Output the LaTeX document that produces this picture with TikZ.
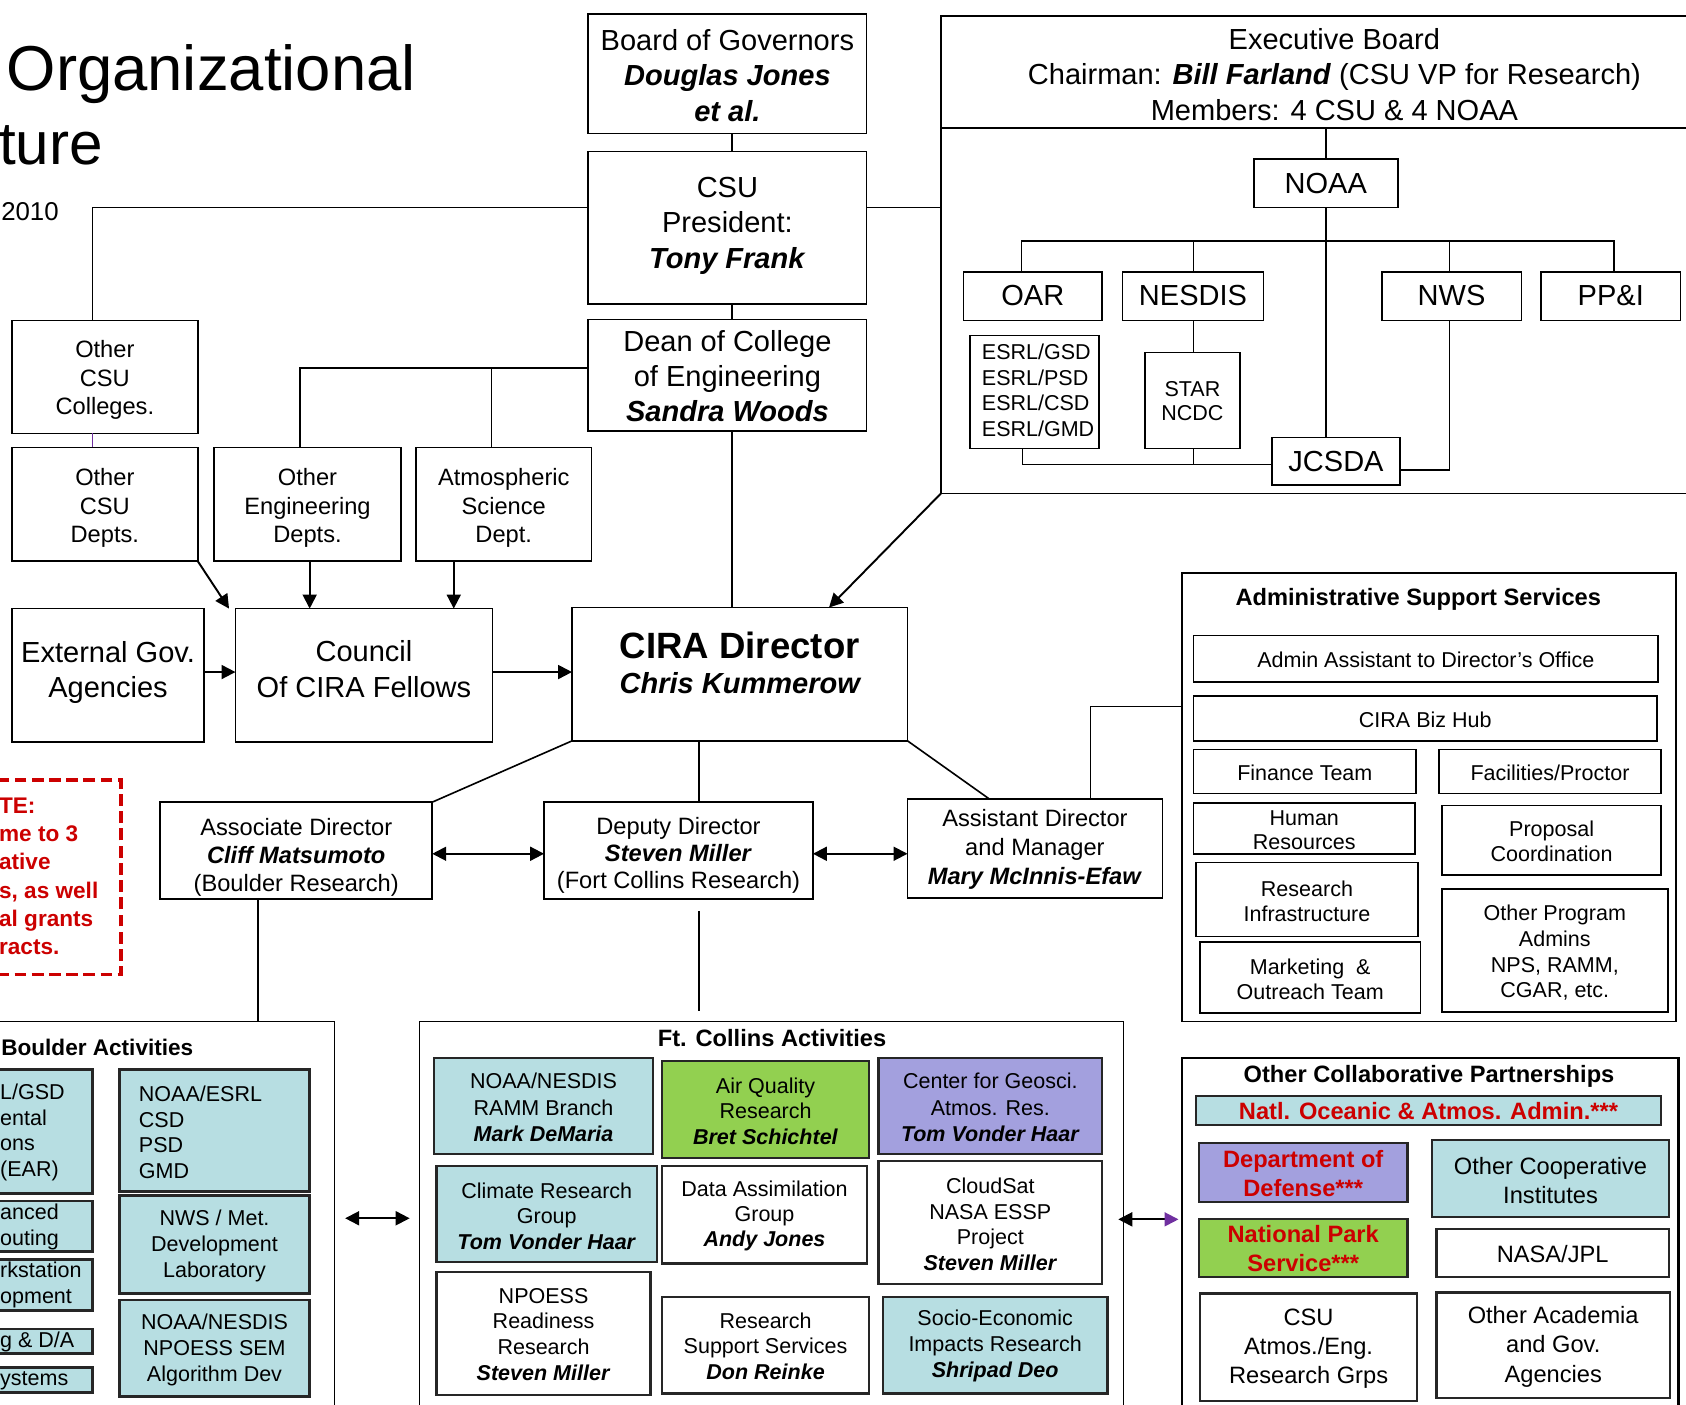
\documentclass[tikz,border=0pt]{standalone}
\usepackage{fontspec}
\setmainfont{Liberation Sans}
\usetikzlibrary{arrows.meta}
\definecolor{lblue}{RGB}{183,222,226}
\definecolor{lgreen}{RGB}{146,208,80}
\definecolor{lav}{RGB}{163,160,222}
\definecolor{nred}{RGB}{204,0,0}
\definecolor{purp}{RGB}{112,48,160}
\newcommand\bi[1]{\textbf{\textit{#1}}}
\newcommand\fsz[2]{\fontsize{#1}{#2}\selectfont}
\newcommand\bxe[6]{\node[box,#2,minimum width={((#5)-(#3))*1pt},minimum height={((#6)-(#4))*1pt},anchor=north west] (#1) at (#3,#4) {};}
\newcommand\bx[9]{\bxe{#1}{#2}{#3}{#4}{#5}{#6}\node[tx,#8] (#1t) at ({((#3)+(#5))/2},#7) {#9};}
\begin{document}
\begin{tikzpicture}[x=1pt,y=-1pt,
 box/.style={draw=black,line width=1.5pt,inner sep=0pt,outer sep=0pt},
 tbox/.style={line width=2.6pt,draw=black!85},
 mbox/.style={line width=2pt,draw=black!85},
 fb/.style={fill=lblue},
 fg/.style={fill=lgreen},
 fl/.style={fill=lav},
 tx/.style={inner sep=0pt,align=center},
 ln/.style={line width=1.5pt},
 ar/.style={line width=1.8pt,-{Triangle[length=13pt,width=13pt]}},
 dar/.style={line width=1.8pt,{Triangle[length=13pt,width=13pt]}-{Triangle[length=13pt,width=13pt]}},
 f20/.style={font=\fsz{20}{24}},
 f22/.style={font=\fsz{22}{26}},
 f27/.style={font=\fsz{27}{33}},
 rb/.style={font=\bfseries\fsz{22}{27},text=nred},
]
\useasboundingbox (0,0) rectangle (1568,1306);
\clip (0,0) rectangle (1568,1306);

% title
\node[anchor=base west,inner sep=0pt,font=\fsz{59}{70}] (title1) at (6,84) {Organizational};
\node[anchor=base west,inner sep=0pt,font=\fsz{56}{70}] (title2) at (-1,153) {ture};
\node[anchor=base west,inner sep=0pt,font=\fsz{24}{30}] (date) at (1,205) {2010};

% CSU chain
\bx{bog}{}{547}{13}{806}{124}{70}{f27}{Board of Governors\\\bi{Douglas Jones}\\\bi{et al.}}
\bx{csu}{}{547}{141}{806}{283}{210}{f27}{CSU\\President:\\\bi{Tony Frank}}
\bx{dean}{}{547}{297}{806}{401}{350}{font=\fsz{27}{32.5}}{Dean of College\\of Engineering\\\bi{Sandra Woods}}

% left column
\bx{colleges}{}{11}{298}{184}{403}{353.5}{font=\fsz{22}{26.5}}{Other\\CSU\\Colleges.}
\bx{depts}{}{11}{416}{184}{522}{472.5}{font=\fsz{22}{26.5}}{Other\\CSU\\Depts.}
\bx{eng}{}{199}{416}{373}{522}{472.5}{font=\fsz{22}{26.5}}{Other\\Engineering\\Depts.}
\bx{atmos}{}{387}{416}{550}{522}{472.5}{font=\fsz{22}{26.5}}{Atmospheric\\Science\\Dept.}
\bx{external}{}{11}{566}{190}{690}{625.5}{f27}{External Gov.\\Agencies}
\bx{council}{}{219}{566}{458}{690}{622.5}{f27}{Council\\Of CIRA Fellows}

% CIRA director
\bxe{cira}{}{532}{565}{844}{689}
\node[tx,font=\bfseries\fsz{34}{38}] (cirat1) at (688,600) {CIRA Director};
\node[tx,font=\bfseries\itshape\fsz{27}{30}] (cirat2) at (688,635) {Chris Kummerow};

% directors
\bx{assoc}{}{149}{746}{402}{836}{797}{font=\fsz{22}{26}}{Associate Director\\\bi{Cliff Matsumoto}\\(Boulder Research)}
\bx{deputy}{}{506}{746}{756}{836}{795.5}{font=\fsz{22}{25.5}}{Deputy Director\\\bi{Steven Miller}\\(Fort Collins Research)}
\bx{asst}{}{844}{743}{1081}{835}{790}{font=\fsz{22}{27}}{Assistant Director\\and Manager\\\bi{Mary McInnis-Efaw}}

% executive board
\bxe{exech}{}{875}{15}{1720}{119}
\bxe{execl}{}{875}{119}{1720}{459}
\node[tx,f27] (exect) at (1241,69) {Executive Board\\Chairman: \bi{Bill Farland} (CSU VP for Research)\\Members: 4 CSU \& 4 NOAA};
\bx{noaa}{}{1166}{148}{1300}{193}{171}{f27}{NOAA}
\bx{oar}{}{896}{253}{1025}{298}{275}{f27}{OAR}
\bx{nesdis}{}{1044}{253}{1175}{298}{275}{f27}{NESDIS}
\bx{nws}{}{1285}{253}{1415}{298}{275}{f27}{NWS}
\bx{ppi}{}{1433}{253}{1563}{298}{275}{f27}{PP\&I}
\bxe{esrl}{}{902}{312}{1022}{417}
\node[tx,align=left,anchor=west,font=\fsz{20}{24}] (esrlt) at (913,363) {ESRL/GSD\\ESRL/PSD\\ESRL/CSD\\ESRL/GMD};
\bx{star}{}{1065}{328}{1153}{417}{373}{font=\fsz{20}{23}}{STAR\\NCDC}
\bx{jcsda}{}{1183}{407}{1302}{451}{429}{f27}{JCSDA}

% note
\node[draw=nred,line width=3pt,dash pattern=on 11pt off 5pt,inner sep=0pt,minimum width=131pt,minimum height=181pt,anchor=north west] (note) at (-20,724) {};
\node[anchor=west,align=left,inner sep=0pt,font=\bfseries\fsz{21}{26.3},text=nred] (notet) at (-1,815) {TE:\\me to 3\\ative\\s, as well\\al grants\\racts.};

% Boulder activities
\bxe{boulder}{}{-20}{950}{311}{1330}
\node[anchor=west,inner sep=0pt,font=\bfseries\fsz{21}{26}] (bouldert) at (1,974) {Boulder Activities};
\bxe{b1}{tbox,fb}{-20}{995}{86}{1110}
\node[anchor=west,align=left,inner sep=0pt,font=\fsz{20}{23.7}] (b1t) at (0,1053) {L/GSD\\ental\\ons\\(EAR)};
\bxe{b2}{tbox,fb}{-20}{1117}{86}{1164}
\node[anchor=west,align=left,inner sep=0pt,font=\fsz{20}{24}] (b2t) at (0,1141) {anced\\outing};
\bxe{b3}{tbox,fb}{-20}{1171}{86}{1219}
\node[anchor=west,align=left,inner sep=0pt,font=\fsz{20}{24}] (b3t) at (0,1195) {rkstation\\opment};
\bxe{b4}{tbox,fb}{-20}{1236}{86}{1259}
\node[anchor=west,inner sep=0pt,font=\fsz{20}{24}] (b4t) at (0,1248) {g \& D/A};
\bxe{b5}{tbox,fb}{-20}{1272}{86}{1295}
\node[anchor=west,inner sep=0pt,font=\fsz{20}{24}] (b5t) at (0,1284) {ystems};
\bxe{r1}{tbox,fb}{111}{995}{288}{1108}
\node[anchor=west,align=left,inner sep=0pt,font=\fsz{20}{24}] (r1t) at (129,1053) {NOAA/ESRL\\CSD\\PSD\\GMD};
\bx{r2}{tbox,fb}{111}{1112}{288}{1203}{1158.5}{f20}{NWS / Met.\\Development\\Laboratory}
\bx{r3}{tbox,fb}{111}{1209}{288}{1299}{1255.5}{f20}{NOAA/NESDIS\\NPOESS SEM\\Algorithm Dev}

% Ft Collins activities
\bxe{fc}{}{390}{950}{1045}{1330}
\node[tx,font=\bfseries\fsz{22}{26}] (fct) at (718,965) {Ft. Collins Activities};
\bx{f1}{mbox,fb}{404}{984}{607}{1073}{1030}{font=\fsz{20}{24.5}}{NOAA/NESDIS\\RAMM Branch\\\bi{Mark DeMaria}}
\bx{f2}{mbox,fg}{616}{987}{808}{1077}{1033.5}{font=\fsz{20}{23.5}}{Air Quality\\Research\\\bi{Bret Schichtel}}
\bx{f3}{mbox,fl}{817}{984}{1025}{1073}{1030}{font=\fsz{20}{24.5}}{Center for Geosci.\\Atmos. Res.\\\bi{Tom Vonder Haar}}
\bx{f4}{mbox,fb}{406}{1084}{611}{1174}{1131}{font=\fsz{20}{23.5}}{Climate Research\\Group\\\bi{Tom Vonder Haar}}
\bx{f5}{mbox}{616}{1084}{806}{1175}{1131}{font=\fsz{20}{23.5}}{Data Assimilation\\Group\\\bi{Andy Jones}}
\bx{f6}{mbox}{817}{1080}{1025}{1194}{1138.5}{font=\fsz{20}{23.7}}{CloudSat\\NASA ESSP\\Project\\\bi{Steven Miller}}
\bx{f7}{mbox}{406}{1183}{605}{1297}{1241}{f20}{NPOESS\\Readiness\\Research\\\bi{Steven Miller}}
\bx{f8}{mbox}{616}{1206}{808}{1296}{1252}{font=\fsz{20}{24}}{Research\\Support Services\\\bi{Don Reinke}}
\bx{f9}{mbox,fb}{821}{1206}{1030}{1296}{1252}{font=\fsz{20}{24}}{Socio-Economic\\Impacts Research\\\bi{Shripad Deo}}

% Administrative support services
\bxe{admin}{line width=1.8pt}{1099}{533}{1559}{950}
\node[tx,font=\bfseries\fsz{22}{26}] (admint) at (1319,557) {Administrative Support Services};
\bx{a1}{}{1110}{591}{1542}{634}{614}{f20}{Admin Assistant to Director’s Office}
\bx{a2}{}{1110}{647}{1541}{689}{669}{f20}{CIRA Biz Hub}
\bx{a3}{}{1110}{697}{1317}{738}{719}{f20}{Finance Team}
\bx{a4}{}{1338}{697}{1545}{738}{719}{f20}{Facilities/Proctor}
\bx{a5}{}{1110}{747}{1316}{794}{772}{font=\fsz{20}{23}}{Human\\Resources}
\bx{a6}{}{1341}{749}{1545}{814}{782.5}{font=\fsz{20}{23}}{Proposal\\Coordination}
\bx{a7}{}{1112}{802}{1319}{871}{838.5}{font=\fsz{20}{23}}{Research\\Infrastructure}
\bx{a8}{}{1116}{876}{1321}{942}{911}{font=\fsz{20}{23}}{Marketing~~\&\\Outreach Team}
\bx{a9}{}{1341}{827}{1551}{941}{886}{font=\fsz{20}{24}}{Other Program\\Admins\\NPS, RAMM,\\CGAR, etc.}

% Other collaborative partnerships
\bxe{collab}{line width=2pt}{1099}{984}{1561}{1330}
\node[tx,font=\bfseries\fsz{22}{26}] (collabt) at (1329,1001) {Other Collaborative Partnerships};
\bx{c1}{mbox,fb}{1112}{1019}{1545}{1046}{1033.5}{rb}{Natl. Oceanic \& Atmos. Admin.***}
\bx{c2}{mbox,fl}{1115}{1063}{1309}{1118}{1091}{rb}{Department of\\Defense***}
\bx{c3}{mbox,fb}{1332}{1060}{1552}{1132}{1098}{font=\fsz{22}{27}}{Other Cooperative\\Institutes}
\bx{c4}{mbox,fg}{1115}{1134}{1309}{1188}{1161.5}{rb}{National Park\\Service***}
\bx{c5}{mbox}{1336}{1143}{1552}{1188}{1166.5}{f22}{NASA/JPL}
\bx{c6}{mbox}{1116}{1203}{1318}{1303}{1254}{font=\fsz{22}{27}}{CSU\\Atmos./Eng.\\Research Grps}
\bx{c7}{mbox}{1336}{1202}{1553}{1300}{1252.5}{font=\fsz{22}{27.5}}{Other Academia\\and Gov.\\Agencies}

% connectors
\draw[ln] (bog.south -| 681,0) -- (csu.north -| 681,0);
\draw[ln] (csu.south -| 681,0) -- (dean.north -| 681,0);
\draw[ln] (csu.west |- 0,193) -| (colleges.north -| 86,0);
\draw[ln] (csu.east |- 0,193) -- (execl.west |- 0,193);
\draw[ln] (dean.west |- 0,342) -| (eng.north -| 279,0);
\draw[ln] (atmos.north -| 457,0) |- (dean.west |- 0,342);
\draw[ln] (dean.south -| 681,0) -- (cira.north -| 681,0);
\draw[line width=1pt,purp] (colleges.south -| 86,0) -- (depts.north -| 86,0);
\draw[ar] (depts.south east) -- ([xshift=-6pt]council.north west);
\draw[ar] (eng.south -| 288,0) -- (council.north -| 288,0);
\draw[ar] (atmos.south -| 422,0) -- (council.north -| 422,0);
\draw[ar] (external.east |- 0,625) -- (council.west |- 0,625);
\draw[ar] (council.east |- 0,625) -- (cira.west |- 0,625);
\draw[ar] (execl.south west) -- (cira.north -| 771,0);
\draw[ln] (cira.south -| 650,0) -- (deputy.north -| 650,0);
\draw[ln] (cira.south west) -- (assoc.north east);
\draw[ln] (cira.south east) -- (asst.north -| 920,0);
\draw[ln] (asst.north -| 1014,0) |- (admin.west |- 0,657);
\draw[dar] (assoc.east |- 0,794) -- (deputy.west |- 0,794);
\draw[dar] (deputy.east |- 0,794) -- (asst.west |- 0,794);
\draw[ln] (assoc.south -| 240,0) -- (boulder.north -| 240,0);
\draw[ln,shorten <=11pt,shorten >=10pt] (deputy.south -| 650,0) -- (fc.north -| 650,0);
\draw[dar,shorten <=10pt,shorten >=9pt] (boulder.east |- 0,1133) -- (fc.west |- 0,1133);
\draw[line width=1.8pt,{Triangle[length=13pt,width=13pt]}-{Triangle[length=13pt,width=13pt,color=purp]},shorten <=-5pt,shorten >=3pt] (fc.east |- 0,1134) -- (collab.west |- 0,1134);

% NOAA tree
\coordinate (brL) at (950,224);
\coordinate (brR) at (1501,224);
\draw[ln] (exech.south -| noaa.north) -- (noaa.north);
\draw[ln] (noaa.south) -- (jcsda.north -| noaa.south);
\draw[ln] (oar.north -| brL) -- (brL) -- (brR) -- (ppi.north -| brR);
\draw[ln] (nesdis.north -| 1110,0) -- (brL -| 1110,0);
\draw[ln] (nws.north -| 1348,0) -- (brL -| 1348,0);
\draw[ln] (nesdis.south -| 1110,0) -- (star.north -| 1110,0);
\draw[ln] (esrl.south -| 951,0) |- (jcsda.west |- 0,432);
\draw[ln] (star.south -| 1110,0) -- (1110,432);
\draw[ln] (nws.south -| 1348,0) |- (jcsda.east |- 0,437);
\end{tikzpicture}
\end{document}
